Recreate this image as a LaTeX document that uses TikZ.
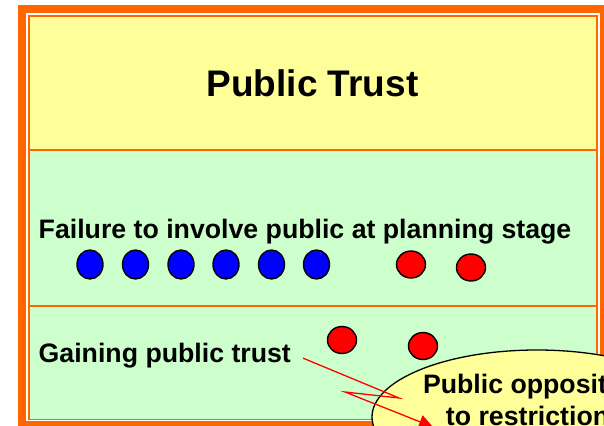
\documentclass[tikz,border=0pt]{standalone}
\usepackage{fontspec}
\setsansfont{Liberation Sans}
\usetikzlibrary{shapes.geometric,arrows.meta}
\definecolor{frameorange}{HTML}{FF6600}
\definecolor{paleyellow}{HTML}{FFFF99}
\definecolor{palegreen}{HTML}{CCFFCC}

\begin{document}
\begin{tikzpicture}[x=1pt,y=-1pt,font=\sffamily\bfseries,
txt/.style={inner sep=0pt,font=\sffamily\bfseries\fontsize{26.7}{32}\selectfont},
dot/.style={ellipse,draw=black,line width=1.4pt,inner sep=0pt,minimum width=26pt,minimum height=29pt},
bluedot/.style={dot,fill=blue},
reddot/.style={dot,fill=red,minimum width=29pt,minimum height=27pt},
zap/.style={draw=red,line width=1.3pt,-{Triangle[length=14pt,width=14pt]}}]
\clip (0,0) rectangle (604,425);
\fill[palegreen] (29,150) rectangle (597,419.5);
\fill[paleyellow] (29,16) rectangle (597,150);
\draw[frameorange,line width=8pt] (22,9) rectangle (604,425);
\draw[frameorange,line width=1.8pt] (29,16) rectangle (597,419.5);
\draw[frameorange,line width=2pt] (29,150) -- (597,150) (29,305.5) -- (597,305.5);
\node[inner sep=0pt,anchor=base,font=\sffamily\bfseries\fontsize{37}{44}\selectfont] (title) at (312.5,97) {Public Trust};
\node[txt,anchor=base west] (failure) at (38.5,238) {Failure to involve public at planning stage};
\foreach \x [count=\n] in {90,135.5,181,226,271.5,316.5}
  \node[bluedot] (b\n) at (\x,264.5) {};
\node[reddot] (r1) at (411,264.5) {};
\node[reddot] (r2) at (471,267.5) {};
\node[txt,anchor=base west] (gain) at (38.5,362) {Gaining public trust};
\node[reddot] (r3) at (342,340) {};
\node[reddot] (r4) at (423,346) {};
\node[ellipse,draw=black,line width=1.3pt,fill=paleyellow,minimum width=330pt,minimum height=134pt] (opp) at (537,417) {};
\node[txt,align=center,anchor=north] (opptext) at (535,373.5) {Public opposition\\to restrictions};
\coordinate (z1) at (399,398);
\coordinate (z2) at (345,392);
\coordinate (oppin) at (433,427);
\draw[zap] ([shift={(12,3)}]gain.east) -- (z1) -- (z2) -- (oppin);
\end{tikzpicture}
\end{document}
